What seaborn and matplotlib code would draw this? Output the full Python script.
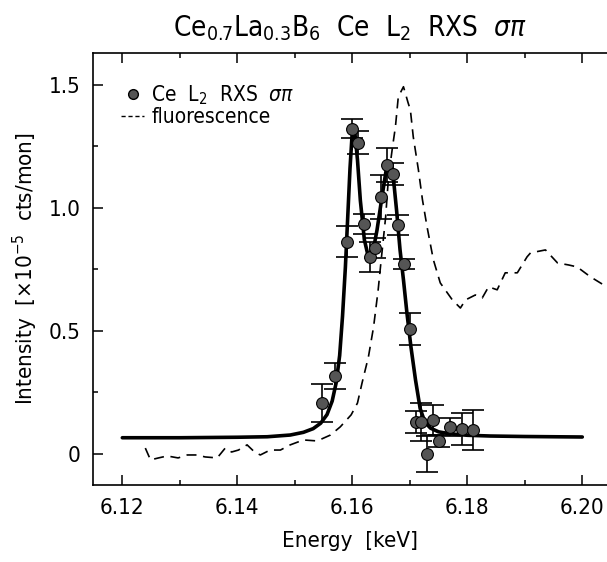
import numpy as np
import pandas as pd
import matplotlib
matplotlib.use("Agg")
import matplotlib.pyplot as plt
import seaborn as sns
from matplotlib.lines import Line2D
from matplotlib.ticker import MultipleLocator

sns.set_theme(style="ticks")
plt.rcParams['font.family'] = ['DejaVu Sans']
plt.rcParams['font.stretch'] = 'condensed'
plt.rcParams['mathtext.fontset'] = 'custom'
plt.rcParams['mathtext.rm'] = 'DejaVu Sans:stretch=condensed'
plt.rcParams['mathtext.it'] = 'DejaVu Sans:italic:stretch=condensed'
plt.rcParams['text.color'] = 'black'
plt.rcParams['axes.labelcolor'] = 'black'

# RXS data points (energy, intensity, error)
rxs_energy = [6.1548, 6.1570, 6.1590, 6.1600, 6.1610, 6.1621, 6.1630, 6.1640,
              6.1650, 6.1661, 6.1670, 6.1680, 6.1690, 6.1700, 6.1710, 6.1720,
              6.1730, 6.1740, 6.1750, 6.1770, 6.1790, 6.1810]
rxs_intensity = [0.207, 0.317, 0.862, 1.322, 1.264, 0.935, 0.800, 0.837,
                 1.045, 1.175, 1.138, 0.930, 0.772, 0.508, 0.130, 0.130,
                 0.000, 0.138, 0.053, 0.110, 0.100, 0.098]
rxs_error = [0.077, 0.053, 0.063, 0.040, 0.047, 0.040, 0.060, 0.040,
             0.090, 0.070, 0.045, 0.040, 0.020, 0.065, 0.045, 0.077,
             0.075, 0.061, 0.025, 0.037, 0.065, 0.081]

# fit curve
fit_energy = [6.1200, 6.1300, 6.1400, 6.1452, 6.1492, 6.1515, 6.1532, 6.1545,
              6.1556, 6.1565, 6.1572, 6.1578, 6.1583, 6.1588, 6.1592, 6.1596,
              6.1600, 6.1604, 6.1609, 6.1614, 6.1621, 6.1628, 6.1635, 6.1643,
              6.1652, 6.1659, 6.1664, 6.1670, 6.1677, 6.1683, 6.1689, 6.1695,
              6.1702, 6.1710, 6.1718, 6.1726, 6.1736, 6.1750, 6.1770, 6.1800,
              6.1840, 6.1900, 6.2000]
fit_intensity = [0.066, 0.066, 0.068, 0.070, 0.077, 0.088, 0.103, 0.125,
                 0.160, 0.215, 0.290, 0.400, 0.560, 0.760, 0.960, 1.160,
                 1.310, 1.315, 1.195, 1.030, 0.870, 0.800, 0.810, 0.910,
                 1.050, 1.155, 1.180, 1.155, 0.990, 0.830, 0.707, 0.573,
                 0.435, 0.300, 0.185, 0.130, 0.105, 0.090, 0.082, 0.076,
                 0.073, 0.071, 0.069]

# fluorescence
fl_energy = [6.1240, 6.1249, 6.1263, 6.1278, 6.1297, 6.1313, 6.1330, 6.1344,
             6.1365, 6.1379, 6.1390, 6.1402, 6.1417, 6.1430, 6.1440, 6.1457,
             6.1475, 6.1492, 6.1515, 6.1539, 6.1562, 6.1579, 6.1598, 6.1609,
             6.1617, 6.1628, 6.1637, 6.1645, 6.1649, 6.1658, 6.1663, 6.1670,
             6.1675, 6.1680, 6.1689, 6.1697, 6.1701, 6.1706, 6.1715, 6.1722,
             6.1730, 6.1741, 6.1753, 6.1774, 6.1788, 6.1797, 6.1814, 6.1826,
             6.1837, 6.1852, 6.1866, 6.1887, 6.1904, 6.1910, 6.1936, 6.1957,
             6.1976, 6.1991, 6.2014, 6.2037]
fl_intensity = [0.024, -0.024, -0.016, -0.008, -0.016, -0.004, -0.004, -0.012,
                -0.016, 0.024, 0.008, 0.016, 0.037, 0.008, -0.004, 0.016,
                0.016, 0.037, 0.057, 0.053, 0.077, 0.110, 0.159, 0.207,
                0.289, 0.394, 0.516, 0.667, 0.760, 0.963, 1.126, 1.248,
                1.329, 1.451, 1.492, 1.427, 1.398, 1.289, 1.154, 1.033,
                0.923, 0.789, 0.695, 0.626, 0.593, 0.626, 0.646, 0.634,
                0.679, 0.667, 0.736, 0.736, 0.801, 0.817, 0.829, 0.776,
                0.768, 0.760, 0.720, 0.687]

df_fit = pd.DataFrame({'energy': fit_energy, 'intensity': fit_intensity})
df_fl = pd.DataFrame({'energy': fl_energy, 'intensity': fl_intensity})

fig = plt.figure(figsize=(6.07, 5.62), dpi=100)
ax = fig.add_axes([93 / 607, 77 / 562, 514 / 607, 432 / 562])

# fluorescence (dashed)
sns.lineplot(data=df_fl, x='energy', y='intensity', ax=ax, color='black',
             linewidth=1.2, sort=False, estimator=None)
ax.lines[-1].set_dashes((6, 4))

# fit curve
sns.lineplot(data=df_fit, x='energy', y='intensity', ax=ax, color='black',
             linewidth=2.6, sort=False, estimator=None)

# data with error bars
ax.errorbar(rxs_energy, rxs_intensity, yerr=rxs_error, fmt='none',
            ecolor='black', elinewidth=1.2, capsize=8, capthick=1.2, zorder=3)
ax.plot(rxs_energy, rxs_intensity, 'o', color='#555555', markeredgecolor='black',
        markeredgewidth=0.8, markersize=8.5, zorder=4)

ax.set_xlim(6.1149, 6.2043)
ax.set_ylim(-0.126, 1.629)
ax.xaxis.set_minor_locator(MultipleLocator(0.01))
ax.yaxis.set_minor_locator(MultipleLocator(0.25))
ax.set_xticks([6.12, 6.14, 6.16, 6.18, 6.20])
ax.set_xticklabels(['6.12', '6.14', '6.16', '6.18', '6.20'])
ax.set_yticks([0, 0.5, 1.0, 1.5])
ax.set_yticklabels(['0', '0.5', '1.0', '1.5'])
ax.tick_params(which='both', direction='in', top=True, right=False,
               labelsize=16, width=1.1, colors='black')
ax.tick_params(which='major', length=7, pad=9)
ax.tick_params(which='minor', length=3.5)
ax.spines['right'].set_visible(False)
for s in ['left', 'bottom', 'top']:
    ax.spines[s].set_linewidth(1.2)
    ax.spines[s].set_color('black')

ax.set_xlabel('Energy  [keV]', fontsize=16, labelpad=10)
ax.set_ylabel(r'Intensity  [×10$^{-5}$  cts/mon]', fontsize=16, labelpad=6)
ax.set_title(r'Ce$_{0.7}$La$_{0.3}$B$_6$  Ce  L$_2$  RXS  $\sigma\pi$',
             fontsize=20, pad=12)

handles = [
    Line2D([], [], linestyle='none', marker='o', color='#555555',
           markeredgecolor='black', markersize=7),
    Line2D([], [], linestyle=(0, (3, 2)), color='black', linewidth=1.0),
]
ax.legend(handles, [r'Ce  L$_2$  RXS  $\sigma\pi$', 'fluorescence'],
          loc='upper left', bbox_to_anchor=(0.055, 0.93), frameon=False,
          fontsize=15, handlelength=1.1, handletextpad=0.35,
          labelspacing=0.0, borderpad=0, borderaxespad=0)

fig.savefig('out.png', dpi=100)
